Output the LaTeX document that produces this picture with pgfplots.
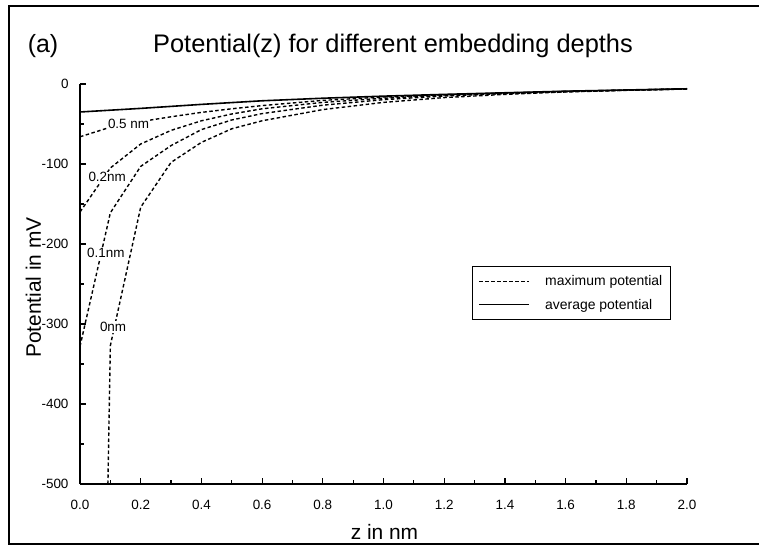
\documentclass[border=0pt]{standalone}
\usepackage{pgfplots}
\pgfplotsset{compat=1.18}
\usepackage{fontspec}
\setmainfont{Liberation Sans}

\begin{document}
\begin{tikzpicture}[x=1bp,y=1bp]
\useasboundingbox (0,0) rectangle (759,554);
% outer frame (right side runs off the page in the scan)
\draw[line width=1.3bp] (759,548) -- (9,548) -- (9,10) -- (759,10);
\node[font=\fontsize{25}{29}\selectfont] at (43,508) {(a)};
\node[font=\fontsize{25.5}{29}\selectfont] at (393,508) {Potential(z) for different embedding depths};

\begin{axis}[
    at={(80bp,70bp)}, anchor=south west,
    scale only axis, width=607bp, height=400bp,
    xmin=0, xmax=2, ymin=-500, ymax=0,
    axis x line*=bottom, axis y line*=left,
    axis line style={line width=1.6bp, -},
    xtick={0,0.2,0.4,0.6,0.8,1.0,1.2,1.4,1.6,1.8,2.0},
    xticklabels={0.0,0.2,0.4,0.6,0.8,1.0,1.2,1.4,1.6,1.8,2.0},
    ytick={-500,-400,-300,-200,-100,0},
    yticklabels={-500,-400,-300,-200,-100,0},
    minor x tick num=1, minor y tick num=1,
    tick align=inside,
    major tick length=6bp, minor tick length=3.5bp,
    tick style={line width=1.2bp, black},
    tick label style={font=\fontsize{13.5}{15}\selectfont},
    xticklabel style={yshift=-13bp},
    yticklabel style={xshift=-8bp},
    xlabel={z in nm}, ylabel={Potential in mV},
    label style={font=\fontsize{21}{25}\selectfont},
    xlabel style={at={(axis description cs:0.5016,-0.12)}, anchor=center},
    ylabel style={at={(axis description cs:-0.0766,0.491)}, anchor=center},
    legend style={at={(0.646,0.545)}, anchor=north west, draw=black,
        line width=1bp, font=\fontsize{14}{16}\selectfont,
        inner xsep=6bp, inner ysep=7bp, row sep=8bp},
    legend cell align=left,
    legend image code/.code={\draw[#1] (0bp,0bp) -- (50bp,0bp);
        \path[draw=none] (0bp,0bp) -- (64bp,0bp);},
    clip=false,
]
\addlegendimage{line width=1.2bp, dash pattern=on 3.5bp off 2.5bp}
\addlegendentry{maximum potential}
\addlegendimage{line width=1.2bp}
\addlegendentry{average potential}

% ---- average potential ----
\addplot[line width=1.6bp, forget plot] coordinates {
    (0,-35) (0.2,-30.5) (0.4,-25.5) (0.6,-21) (0.8,-17.8) (1.0,-15.2)
    (1.2,-13) (1.4,-11) (1.6,-9) (1.8,-7.5) (2.0,-6)};

% ---- maximum potential, depth 0.5 nm ----
\addplot[line width=1.4bp, dash pattern=on 3.5bp off 2.5bp, forget plot] coordinates {
    (0,-66) (0.1,-54) (0.2,-47) (0.3,-41) (0.4,-35.5) (0.5,-31) (0.6,-27)
    (0.8,-20.5) (1.0,-16.3) (1.2,-13.5) (1.4,-11.3) (1.6,-9.2) (1.8,-7.6) (2.0,-6.1)};

% ---- depth 0.2 nm ----
\addplot[line width=1.4bp, dash pattern=on 3.5bp off 2.5bp, forget plot] coordinates {
    (0,-160) (0.1,-105) (0.2,-75) (0.3,-58) (0.4,-46) (0.5,-37.5) (0.6,-31)
    (0.8,-23) (1.0,-17.8) (1.2,-14.2) (1.4,-11.6) (1.6,-9.4) (1.8,-7.7) (2.0,-6.2)};

% ---- depth 0.1 nm ----
\addplot[line width=1.4bp, dash pattern=on 3.5bp off 2.5bp, forget plot] coordinates {
    (0,-328) (0.1,-161) (0.2,-103) (0.3,-77) (0.4,-57) (0.5,-45) (0.6,-37)
    (0.8,-26.5) (1.0,-19.6) (1.2,-15) (1.4,-12) (1.6,-9.6) (1.8,-7.8) (2.0,-6.2)};

% ---- depth 0 nm ----
\addplot[line width=1.4bp, dash pattern=on 3.5bp off 2.5bp, forget plot] coordinates {
    (0.092,-500) (0.1,-327) (0.2,-154) (0.3,-98) (0.4,-73) (0.5,-56) (0.6,-46)
    (0.8,-32) (1.0,-23) (1.2,-17) (1.4,-13) (1.6,-10) (1.8,-7.9) (2.0,-6.3)};

% ---- depth labels ----
\begin{scope}[every node/.style={fill=white, inner sep=1bp, font=\fontsize{13.5}{15}\selectfont}]
\node at (axis cs:0.160,-50) {0.5 nm};
\node at (axis cs:0.0896,-116.7) {0.2nm};
\node at (axis cs:0.085,-211) {0.1nm};
\node at (axis cs:0.109,-304) {0nm};
\end{scope}
\end{axis}
\end{tikzpicture}
\end{document}
